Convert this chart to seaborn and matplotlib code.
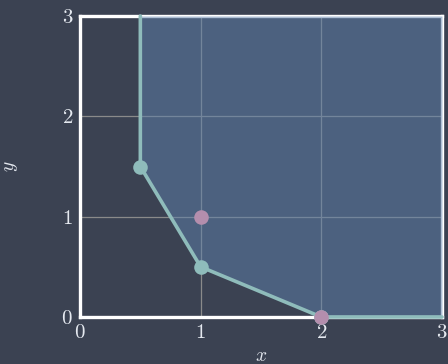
import matplotlib
matplotlib.use("Agg")
import matplotlib.pyplot as plt
import seaborn as sns

# Efficient frontier (lower-left boundary of the feasible region)
frontier_x = [0.5, 0.5, 1.0, 2.0, 3.0]
frontier_y = [3.0, 1.5, 0.5, 0.0, 0.0]
# Vertices marked on the frontier
vertex_x = [0.5, 1.0, 2.0]
vertex_y = [1.5, 0.5, 0.0]
# Highlighted points
point_x = [1.0, 2.0]
point_y = [1.0, 0.0]
ticks = [0, 1, 2, 3]

bg = "#3b4252"
fg = "#e5e9f0"
sns.set_theme(style="darkgrid")
plt.rcParams.update({
    "font.family": "serif",
    "font.serif": ["cmr10"],
    "mathtext.fontset": "cm",
    "axes.formatter.use_mathtext": True,
    "figure.facecolor": bg,
    "axes.facecolor": bg,
    "axes.edgecolor": "white",
    "grid.color": "#8a8a8a",
    "text.color": fg,
    "xtick.color": fg,
    "ytick.color": fg,
    "axes.labelcolor": fg,
})

fig = plt.figure(figsize=(4.48, 3.64), dpi=100)
ax = fig.add_axes([80 / 448, 1 - 317 / 364, 362 / 448, 301 / 364])

ax.fill_between(frontier_x, frontier_y, 3, color="#5e81ac", alpha=0.5,
                linewidth=0, zorder=3)
sns.lineplot(x=frontier_x, y=frontier_y, sort=False, estimator=None,
             color="#8fbcbb", linewidth=2.6, ax=ax, zorder=4, clip_on=False)
sns.scatterplot(x=vertex_x, y=vertex_y, color="#8fbcbb", s=110,
                linewidth=0, ax=ax, zorder=5, clip_on=False)
sns.scatterplot(x=point_x, y=point_y, color="#b48ead", s=110,
                linewidth=0, ax=ax, zorder=6, clip_on=False)

ax.set_xlim(0, 3)
ax.set_ylim(0, 3)
ax.set_xticks(ticks)
ax.set_yticks(ticks)
ax.tick_params(length=0, labelsize=15, pad=5)
ax.grid(True, linewidth=0.9, color="#8a8a8a")
for sp in ax.spines.values():
    sp.set_visible(True)
    sp.set_color("white")
    sp.set_linewidth(2.4)
    sp.set_zorder(2.5)

ax.set_xlabel("$x$", fontsize=14, labelpad=4)
ax.set_ylabel("$y$", fontsize=14, labelpad=30)

fig.savefig("out.png", dpi=100, facecolor=bg)
